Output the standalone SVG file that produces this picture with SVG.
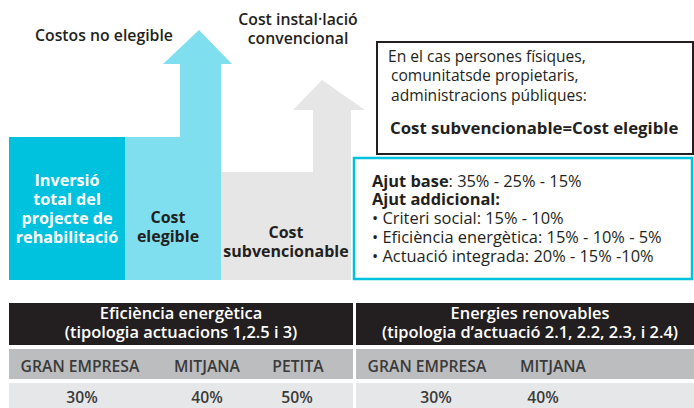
<svg xmlns="http://www.w3.org/2000/svg" width="694" height="408" viewBox="0 0 694 408">
<style>
text{font-family:"Open Sans","Noto Sans","Liberation Sans",sans-serif;}
.t{font-size:15.8px;fill:#231f20;font-weight:600;}
.r{font-size:15.6px;fill:#231f20;font-weight:400;}
.a{font-size:16.4px;fill:#231f20;font-weight:400;}
.b{font-weight:700;}
.w{fill:#ffffff;font-weight:700;font-size:16.2px;}
.k{font-size:16px;fill:#231f20;font-weight:700;}
.c{text-anchor:middle;}
.h{fill:#ffffff;font-weight:600;font-size:16.4px;text-anchor:middle;}
.g{font-size:15.7px;fill:#3a3a3a;font-weight:600;text-anchor:middle;}
</style>
<g id="costos-no-elegible-label"><text class="t" x="35" y="41">Costos no elegible</text></g>
<g id="cost-installacio-label"><text class="t c" x="298" y="25">Cost instal·lació</text><text class="t c" x="298" y="44">convencional</text></g>
<g id="cost-subvencionable-block">
<path d="M220 172 H313 V110 H293 L322 80 L365 110 H351 V280 H220 Z" fill="#e6e6e6"/>
<text class="k c" x="286" y="238">Cost</text><text class="k c" x="286" y="257">subvencionable</text>
</g>
<g id="cost-elegible-block">
<path d="M125 137 H180 V64 H163 L199 30 L232 64 H221 V280 H125 Z" fill="#80dfef"/>
<text class="k c" x="168" y="223">Cost</text><text class="k c" x="168" y="242">elegible</text>
</g>
<g id="inversio-block">
<rect x="9" y="137" width="116" height="143" fill="#00c1de"/>
<text class="w c" x="67" y="186">Inversió</text>
<text class="w c" x="67" y="205">total del</text>
<text class="w c" x="67" y="224">projecte de</text>
<text class="w c" x="67" y="243">rehabilitació</text>
</g>
<g id="note-box">
<rect x="377" y="42" width="316" height="112" fill="#ffffff" stroke="#231f20" stroke-width="2"/>
<text class="r" x="388" y="62">En el cas persones físiques,</text>
<text class="r" x="391" y="81">comunitatsde propietaris,</text>
<text class="r" x="391" y="101">administracions públiques:</text>
<text class="r b" x="390" y="134" style="font-size:16.8px">Cost subvencionable=Cost elegible</text>
</g>
<g id="ajut-box">
<rect x="354" y="158" width="338" height="121" fill="#ffffff" stroke="#00c1de" stroke-width="2.5"/>
<text class="a" x="372" y="187"><tspan class="b">Ajut base</tspan>: 35% - 25% - 15%</text>
<text class="a b" x="372" y="205">Ajut addicional:</text>
<text class="a" x="372" y="224">• Criteri social: 15% - 10%</text>
<text class="a" x="372" y="243">• Eficiència energètica: 15% - 10% - 5%</text>
<text class="a" x="372" y="262">• Actuació integrada: 20% - 15% -10%</text>
</g>
<g id="table-eficiencia">
<rect x="9" y="303" width="344" height="42" fill="#231f20"/>
<text class="h" x="181" y="319">Eficiència energètica</text>
<text class="h" x="181" y="338">(tipologia actuacions 1,2.5 i 3)</text>
<rect x="9" y="349" width="344" height="30" fill="#bcbdbf"/>
<text class="g" x="80" y="372">GRAN EMPRESA</text>
<text class="g" x="207" y="372">MITJANA</text>
<text class="g" x="298" y="372">PETITA</text>
<rect x="9" y="383" width="344" height="25" fill="#e6e7e8"/>
<text class="g" x="82" y="403">30%</text>
<text class="g" x="207" y="403">40%</text>
<text class="g" x="297" y="403">50%</text>
</g>
<g id="table-renovables">
<rect x="356" y="303" width="338" height="42" fill="#231f20"/>
<text class="h" x="530" y="319">Energies renovables</text>
<text class="h" x="530" y="338">(tipologia d’actuació 2.1, 2.2, 2.3, i 2.4)</text>
<rect x="356" y="349" width="338" height="30" fill="#bcbdbf"/>
<text class="g" x="427" y="372">GRAN EMPRESA</text>
<text class="g" x="553" y="372">MITJANA</text>
<rect x="356" y="383" width="338" height="25" fill="#e6e7e8"/>
<text class="g" x="436" y="403">30%</text>
<text class="g" x="543" y="403">40%</text>
</g>
<g id="connectors"></g>
</svg>
